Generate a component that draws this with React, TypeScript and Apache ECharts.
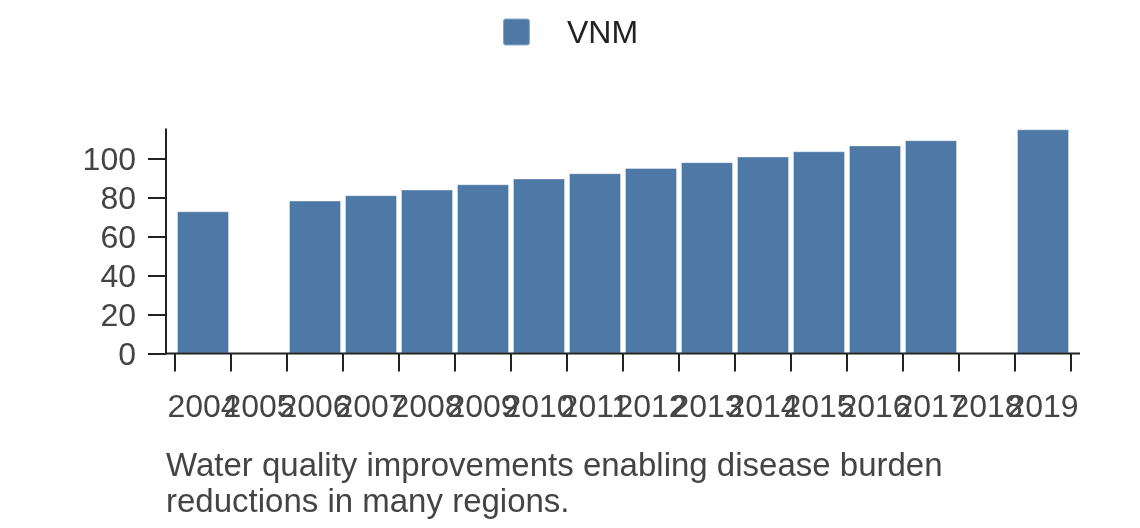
import React, { useEffect, useRef } from "react";
import * as echarts from "echarts";

const categories = ["2004", "2005", "2006", "2007", "2008", "2009", "2010", "2011", "2012", "2013", "2014", "2015", "2016", "2017", "2018", "2019"];
const vnmValues: (number | null)[] = [73.2, null, 78.7, 81.5, 84.4, 87.1, 90.1, 92.8, 95.5, 98.5, 101.4, 104.1, 107.1, 109.8, null, 115.4];
const yTickValues = [0, 20, 40, 60, 80, 100];
const seriesName = "VNM";
const caption = "Water quality improvements enabling disease burden\nreductions in many regions.";

const FONT = '"Liberation Sans", Arial, Helvetica, sans-serif';
const AXIS_COLOR = "#222";
const LABEL_COLOR = "#444";
const BAR_COLOR = "#4e79a7";

const W = 1140;
const H = 528;
const GRID_LEFT = 175;
const GRID_RIGHT = 69;
const GRID_TOP = 129.3;
const GRID_BOTTOM = 174.5;
const AXIS_PAD = 9;

export default function App() {
  const ref = useRef<HTMLDivElement>(null);
  useEffect(() => {
    if (!ref.current) return;
    const chart = echarts.init(ref.current, null, { renderer: "svg" });
    const axisY = H - GRID_BOTTOM;
    chart.setOption({
      animation: false,
      textStyle: { fontFamily: FONT },
      legend: {
        show: true,
        left: "center",
        top: 11,
        itemWidth: 27,
        itemHeight: 27,
        icon: "path://M3,0H24Q27,0 27,3V24Q27,27 24,27H3Q0,27 0,24V3Q0,0 3,0Z",
        textStyle: { fontSize: 32, color: "#222", fontFamily: FONT, padding: [0, 0, 0, 32] },
        data: [seriesName],
      },
      grid: {
        left: GRID_LEFT,
        right: GRID_RIGHT,
        top: GRID_TOP,
        bottom: GRID_BOTTOM,
        outerBoundsMode: "none",
      },
      xAxis: {
        type: "category",
        data: categories,
        boundaryGap: true,
        axisLine: { show: false },
        axisTick: { show: true, length: 18, interval: 0, lineStyle: { color: AXIS_COLOR, width: 2 } },
        axisLabel: { interval: 0, fontSize: 32, color: LABEL_COLOR, margin: 36, fontFamily: FONT, hideOverlap: false },
        splitLine: { show: false },
      },
      yAxis: {
        type: "value",
        min: 0,
        max: 115.4,
        offset: AXIS_PAD,
        axisLine: { show: true, lineStyle: { color: AXIS_COLOR, width: 2 } },
        axisTick: { show: true, length: 18, customValues: yTickValues, lineStyle: { color: AXIS_COLOR, width: 2 } },
        axisLabel: { fontSize: 32, color: LABEL_COLOR, margin: 30, fontFamily: FONT, customValues: yTickValues },
        splitLine: { show: false },
      },
      graphic: [
        {
          type: "line",
          z: 100,
          shape: { x1: GRID_LEFT - AXIS_PAD, y1: axisY, x2: W - GRID_RIGHT + AXIS_PAD, y2: axisY },
          style: { stroke: AXIS_COLOR, lineWidth: 2 },
        },
        {
          type: "text",
          left: 166,
          top: 446,
          style: { text: caption, font: `33px ${FONT}`, fill: LABEL_COLOR, lineHeight: 36 },
        },
      ],
      series: [
        {
          name: seriesName,
          type: "bar",
          data: vnmValues,
          barCategoryGap: "7%",
          itemStyle: { color: BAR_COLOR, borderColor: "rgba(255,255,255,0.35)", borderWidth: 1 },
        },
      ],
    });
    return () => chart.dispose();
  }, []);
  return <div ref={ref} style={{ position: "fixed", left: 0, top: 0, width: W, height: H }} />;
}
